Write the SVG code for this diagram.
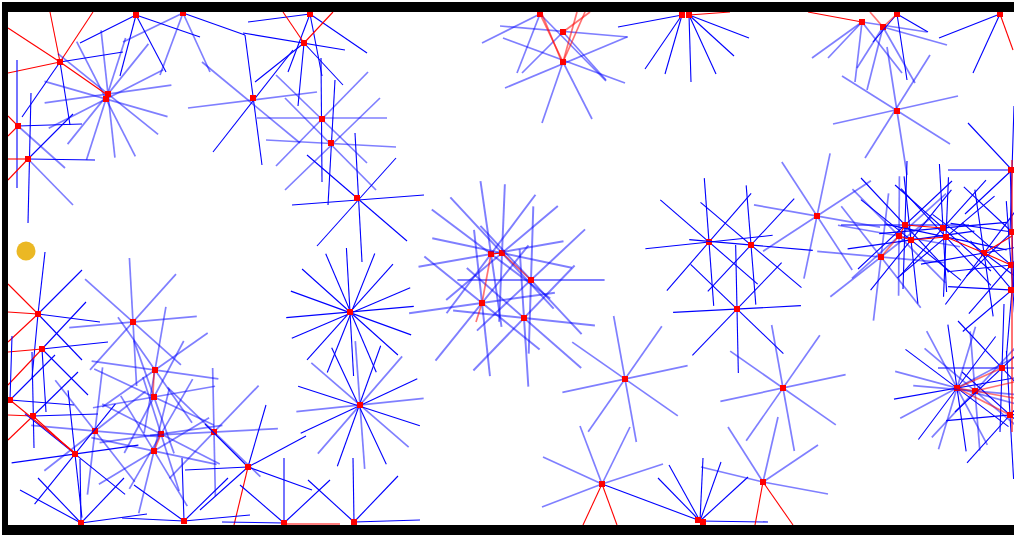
<svg xmlns="http://www.w3.org/2000/svg" width="1014" height="536" viewBox="0 0 1014 536">
<style>
.s{stroke:#0000ff;stroke-width:1.1;fill:none}
.l{stroke:#0000ff;stroke-opacity:.5;stroke-width:1.7;fill:none}
.r{stroke:#ff0000;stroke-width:1.1}
.rl{stroke:#ff0000;stroke-opacity:.55;stroke-width:1.7}
.d{fill:#ff0000}
.w{fill:#000}
</style>
<defs>
<g id="A"><line x1="-64" y1="0" x2="64" y2="0"/><line x1="-44" y1="-47" x2="44" y2="47"/><line x1="2" y1="-64" x2="-2" y2="64"/><line x1="47" y1="-44" x2="-47" y2="44"/></g>
<g id="B"><line x1="-62" y1="0" x2="62" y2="0"/><line x1="-54" y1="-38" x2="54" y2="38"/><line x1="-10" y1="-59" x2="10" y2="59"/><line x1="39" y1="-50" x2="-39" y2="50"/></g>
<rect id="dot" x="-3" y="-3" width="6" height="6"/>
</defs>
<rect width="1014" height="536" fill="#fff"/>

<g id="agents">
<g id="a1"><g class="r"><line x1="60" y1="62" x2="8" y2="28"/><line x1="60" y1="62" x2="8" y2="73"/><line x1="60" y1="62" x2="50" y2="12"/><line x1="60" y1="62" x2="93" y2="12"/></g><g class="s"><line x1="60" y1="62" x2="123" y2="52"/><line x1="60" y1="62" x2="22" y2="117"/><line x1="60" y1="62" x2="70" y2="125"/></g><use href="#dot" class="d" x="60" y="62"/></g>
<g id="a2"><use href="#A" class="l" transform="translate(108,94) rotate(-8)"/><use href="#A" class="l" transform="translate(106,99) rotate(16)"/><use href="#dot" class="d" x="108" y="94"/><use href="#dot" class="d" x="106" y="99"/></g>
<g id="a3"><g class="s"><line x1="136" y1="15" x2="80" y2="43"/><line x1="136" y1="15" x2="120" y2="76"/><line x1="136" y1="15" x2="166" y2="72"/><line x1="136" y1="15" x2="200" y2="37"/></g><use href="#dot" class="d" x="136" y="15"/></g>
<g id="a4"><g class="l"><line x1="183" y1="13" x2="123" y2="42"/><line x1="183" y1="13" x2="160" y2="75"/><line x1="183" y1="13" x2="210" y2="72"/></g><line class="s" x1="183" y1="13" x2="245" y2="35"/><use href="#dot" class="d" x="183" y="13"/></g>
<g id="a5"><line class="l" x1="188" y1="108" x2="317" y2="92"/><line class="s" x1="245" y1="35" x2="262" y2="165"/><line class="s" x1="213" y1="152" x2="293" y2="50"/><line class="l" x1="202" y1="62" x2="300" y2="143"/><use href="#dot" class="d" x="253" y="98"/></g>
<g id="a6"><g class="s"><line x1="310" y1="14" x2="248" y2="22"/><line x1="310" y1="14" x2="367" y2="53"/><line x1="310" y1="14" x2="288" y2="72"/><line x1="310" y1="14" x2="322" y2="76"/></g><use href="#dot" class="d" x="310" y="14"/></g>
<g id="a7"><g class="s"><line x1="243" y1="33" x2="345" y2="50"/><line x1="304" y1="43" x2="255" y2="82"/><line x1="304" y1="43" x2="298" y2="106"/><line x1="304" y1="43" x2="343" y2="85"/></g><g class="r"><line x1="304" y1="43" x2="283" y2="12"/><line x1="304" y1="43" x2="333" y2="12"/></g><use href="#dot" class="d" x="304" y="43"/></g>
<g id="a8"><line class="l" x1="257" y1="118" x2="387" y2="118"/><line class="s" x1="321" y1="58" x2="322" y2="182"/><line class="l" x1="368" y1="72" x2="276" y2="166"/><line class="l" x1="276" y1="75" x2="367" y2="163"/><use href="#dot" class="d" x="322" y="119"/></g>
<g id="a9"><line class="l" x1="266" y1="140" x2="396" y2="147"/><line class="s" x1="335" y1="80" x2="328" y2="205"/><line class="l" x1="380" y1="98" x2="285" y2="190"/><line class="l" x1="285" y1="98" x2="376" y2="190"/><use href="#dot" class="d" x="331" y="143"/></g>
<g id="a10"><g class="s"><line x1="292" y1="205" x2="424" y2="195"/><line x1="355" y1="133" x2="362" y2="262"/><line x1="317" y1="246" x2="396" y2="158"/><line x1="407" y1="241" x2="307" y2="155"/></g><use href="#dot" class="d" x="357" y="198"/></g>
<g id="a11"><line class="s" x1="17" y1="60" x2="17" y2="188"/><line class="s" x1="18" y1="126" x2="82" y2="124"/><line class="l" x1="18" y1="126" x2="65" y2="168"/><g class="r"><line x1="18" y1="126" x2="8" y2="116"/><line x1="18" y1="126" x2="8" y2="136"/></g><use href="#dot" class="d" x="18" y="126"/></g>
<g id="a12"><g class="s"><line x1="31" y1="93" x2="28" y2="223"/><line x1="28" y1="159" x2="95" y2="160"/><line x1="28" y1="159" x2="73" y2="114"/></g><line class="l" x1="28" y1="159" x2="73" y2="205"/><g class="r"><line x1="28" y1="159" x2="8" y2="159"/><line x1="28" y1="159" x2="8" y2="180"/></g><use href="#dot" class="d" x="28" y="159"/></g>
<g id="goal"><circle cx="26" cy="251" r="9.5" fill="#ebb824"/></g>
<g id="a14"><g class="r"><line x1="38" y1="314" x2="8" y2="312"/><line x1="38" y1="314" x2="8" y2="284"/><line x1="38" y1="314" x2="8" y2="342"/></g><g class="s"><line x1="38" y1="314" x2="45" y2="252"/><line x1="38" y1="314" x2="32" y2="378"/><line x1="38" y1="314" x2="82" y2="270"/><line x1="38" y1="314" x2="100" y2="322"/><line x1="38" y1="314" x2="82" y2="360"/></g><use href="#dot" class="d" x="38" y="314"/></g>
<g id="a15"><g class="r"><line x1="42" y1="349" x2="8" y2="352"/><line x1="42" y1="349" x2="8" y2="385"/></g><g class="s"><line x1="42" y1="349" x2="108" y2="342"/><line x1="42" y1="349" x2="86" y2="302"/><line x1="42" y1="349" x2="88" y2="395"/><line x1="42" y1="349" x2="46" y2="412"/></g><use href="#dot" class="d" x="42" y="349"/></g>
<g id="a16"><use href="#A" class="l" transform="translate(133,322) rotate(-5)"/><use href="#dot" class="d" x="133" y="322"/></g>
<g id="a17"><use href="#A" class="l" transform="translate(155,370) rotate(8)"/><use href="#dot" class="d" x="155" y="370"/></g>
<g id="a18"><use href="#B" class="l" transform="translate(154,397) rotate(-10)"/><use href="#dot" class="d" x="154" y="397"/></g>
<g id="a19"><g class="s"><line x1="10" y1="400" x2="74" y2="405"/><line x1="10" y1="400" x2="55" y2="355"/><line x1="10" y1="400" x2="12" y2="336"/></g><use href="#dot" class="d" x="10" y="400"/></g>
<g id="a20"><g class="r"><line x1="33" y1="416" x2="8" y2="415"/><line x1="33" y1="416" x2="8" y2="440"/></g><g class="s"><line x1="33" y1="416" x2="98" y2="414"/><line x1="32" y1="352" x2="34" y2="448"/><line x1="33" y1="416" x2="78" y2="372"/></g><use href="#dot" class="d" x="33" y="416"/></g>
<g id="a21"><use href="#A" class="l" transform="translate(95,431) rotate(5)"/><use href="#dot" class="d" x="95" y="431"/></g>
<g id="a22"><use href="#B" class="l" transform="translate(161,434) rotate(-8)"/><use href="#dot" class="d" x="161" y="434"/></g>
<g id="a23"><use href="#A" class="l" transform="translate(154,451) rotate(12)"/><use href="#dot" class="d" x="154" y="451"/></g>
<g id="a24"><use href="#A" class="l" transform="translate(214,432) rotate(-3)"/><use href="#dot" class="d" x="214" y="432"/></g>
<g id="a25"><use href="#A" class="s" transform="translate(75,454) rotate(-8)"/><use href="#dot" class="d" x="75" y="454"/></g>
<g id="a26"><g class="s"><line x1="248" y1="467" x2="312" y2="490"/><line x1="248" y1="467" x2="306" y2="436"/><line x1="248" y1="467" x2="266" y2="405"/><line x1="248" y1="467" x2="205" y2="424"/><line x1="248" y1="467" x2="185" y2="470"/><line x1="248" y1="467" x2="200" y2="510"/></g><line class="r" x1="248" y1="467" x2="234" y2="525"/><use href="#dot" class="d" x="248" y="467"/></g>
<g id="a27"><g class="s"><line x1="81" y1="523" x2="20" y2="490"/><line x1="81" y1="523" x2="147" y2="514"/><line x1="81" y1="523" x2="124" y2="478"/><line x1="81" y1="523" x2="80" y2="459"/><line x1="81" y1="523" x2="38" y2="478"/></g><use href="#dot" class="d" x="81" y="523"/></g>
<g id="a28"><g class="s"><line x1="184" y1="521" x2="134" y2="485"/><line x1="184" y1="521" x2="250" y2="515"/><line x1="184" y1="521" x2="228" y2="478"/><line x1="184" y1="521" x2="182" y2="458"/><line x1="184" y1="521" x2="122" y2="518"/></g><use href="#dot" class="d" x="184" y="521"/></g>
<g id="a29"><g class="s"><line x1="284" y1="523" x2="284" y2="458"/><line x1="284" y1="523" x2="330" y2="480"/><line x1="284" y1="523" x2="240" y2="485"/><line x1="284" y1="523" x2="222" y2="522"/></g><use href="#dot" class="d" x="284" y="523"/></g>
<g id="a30"><g class="s"><line x1="354" y1="522" x2="353" y2="458"/><line x1="354" y1="522" x2="398" y2="476"/><line x1="354" y1="522" x2="308" y2="480"/><line x1="354" y1="522" x2="420" y2="520"/></g><use href="#dot" class="d" x="354" y="522"/></g>
<g id="a31"><use href="#A" class="s" transform="translate(350,312) rotate(-5)"/><use href="#A" class="s" transform="translate(351,313) rotate(20)"/><use href="#dot" class="d" x="350" y="312"/></g>
<g id="a32"><use href="#A" class="l" transform="translate(360,405) rotate(-6)"/><use href="#A" class="s" transform="translate(359,406) rotate(18)"/><use href="#dot" class="d" x="360" y="405"/></g>
<g id="a33"><use href="#A" class="l" transform="translate(491,254) rotate(-10) scale(1.15)"/><use href="#dot" class="d" x="491" y="254"/></g>
<g id="a34"><use href="#B" class="l" transform="translate(502,253) rotate(12) scale(1.15)"/><use href="#dot" class="d" x="502" y="253"/></g>
<g id="a35"><use href="#A" class="l" transform="translate(531,280) rotate(0) scale(1.15)"/><use href="#dot" class="d" x="531" y="280"/></g>
<g id="a36"><use href="#A" class="l" transform="translate(482,303) rotate(-8) scale(1.15)"/><use href="#dot" class="d" x="482" y="303"/></g>
<g id="a37"><use href="#B" class="l" transform="translate(524,318) rotate(6) scale(1.15)"/><use href="#dot" class="d" x="524" y="318"/></g>
<g id="a38"><use href="#A" class="s" transform="translate(709,242) rotate(-6)"/><use href="#dot" class="d" x="709" y="242"/></g>
<g id="a39"><use href="#B" class="s" transform="translate(751,245) rotate(5)"/><use href="#dot" class="d" x="751" y="245"/></g>
<g id="a40"><use href="#A" class="s" transform="translate(737,309) rotate(-3)"/><use href="#dot" class="d" x="737" y="309"/></g>
<g id="a41"><use href="#A" class="l" transform="translate(817,216) rotate(10)"/><use href="#dot" class="d" x="817" y="216"/></g>
<g id="a42"><use href="#A" class="l" transform="translate(625,379) rotate(-12)"/><use href="#dot" class="d" x="625" y="379"/></g>
<g id="a43"><use href="#A" class="l" transform="translate(783,388) rotate(-12)"/><use href="#dot" class="d" x="783" y="388"/></g>
<g id="a44"><g class="l"><line x1="602" y1="484" x2="543" y2="457"/><line x1="602" y1="484" x2="580" y2="426"/><line x1="602" y1="484" x2="630" y2="427"/><line x1="602" y1="484" x2="663" y2="464"/><line x1="602" y1="484" x2="542" y2="507"/></g><line class="s" x1="602" y1="484" x2="698" y2="520"/><g class="r"><line x1="602" y1="484" x2="583" y2="525"/><line x1="602" y1="484" x2="617" y2="525"/></g><use href="#dot" class="d" x="602" y="484"/></g>
<g id="a45"><g class="s"><line x1="700" y1="521" x2="658" y2="478"/><line x1="700" y1="521" x2="669" y2="465"/><line x1="700" y1="521" x2="703" y2="458"/><line x1="700" y1="521" x2="721" y2="462"/><line x1="700" y1="521" x2="748" y2="477"/><line x1="700" y1="521" x2="768" y2="522"/></g><use href="#dot" class="d" x="698" y="520"/><use href="#dot" class="d" x="703" y="522"/></g>
<g id="a46"><g class="l"><line x1="763" y1="482" x2="728" y2="427"/><line x1="763" y1="482" x2="778" y2="417"/><line x1="763" y1="482" x2="818" y2="445"/><line x1="763" y1="482" x2="828" y2="494"/><line x1="763" y1="482" x2="701" y2="467"/></g><g class="r"><line x1="763" y1="482" x2="755" y2="525"/><line x1="763" y1="482" x2="793" y2="525"/></g><use href="#dot" class="d" x="763" y="482"/></g>
<g id="a47"><g class="l"><line x1="540" y1="14" x2="482" y2="43"/><line x1="540" y1="14" x2="517" y2="73"/><line x1="540" y1="14" x2="606" y2="81"/></g><use href="#dot" class="d" x="540" y="14"/></g>
<g id="a48"><g class="l"><line x1="500" y1="26" x2="628" y2="37"/><line x1="563" y1="32" x2="522" y2="73"/><line x1="563" y1="32" x2="606" y2="80"/></g><use href="#dot" class="d" x="563" y="32"/></g>
<g id="a49"><g class="l"><line x1="505" y1="88" x2="627" y2="37"/><line x1="503" y1="38" x2="625" y2="83"/><line x1="563" y1="62" x2="542" y2="123"/><line x1="563" y1="62" x2="592" y2="119"/></g><use href="#dot" class="d" x="563" y="62"/></g>
<g id="a50"><g class="s"><line x1="682" y1="15" x2="618" y2="27"/><line x1="682" y1="15" x2="645" y2="69"/><line x1="682" y1="15" x2="665" y2="74"/><line x1="689" y1="15" x2="691" y2="82"/><line x1="689" y1="15" x2="716" y2="74"/><line x1="689" y1="15" x2="734" y2="56"/><line x1="689" y1="15" x2="749" y2="38"/></g><use href="#dot" class="d" x="682" y="15"/><use href="#dot" class="d" x="689" y="15"/></g>
<g id="a51"><g class="l"><line x1="862" y1="22" x2="812" y2="58"/><line x1="862" y1="22" x2="828" y2="58"/><line x1="862" y1="22" x2="855" y2="82"/><line x1="862" y1="22" x2="902" y2="73"/><line x1="862" y1="22" x2="927" y2="32"/></g><use href="#dot" class="d" x="862" y="22"/></g>
<g id="a52"><g class="l"><line x1="883" y1="27" x2="867" y2="90"/><line x1="883" y1="27" x2="915" y2="83"/><line x1="883" y1="27" x2="947" y2="45"/><line x1="883" y1="27" x2="857" y2="68"/></g><use href="#dot" class="d" x="883" y="27"/></g>
<g id="a53"><g class="s"><line x1="897" y1="14" x2="907" y2="80"/><line x1="897" y1="14" x2="928" y2="32"/><line x1="897" y1="14" x2="873" y2="42"/></g><use href="#dot" class="d" x="897" y="14"/></g>
<g id="a54"><g class="s"><line x1="1000" y1="14" x2="939" y2="38"/><line x1="1000" y1="14" x2="973" y2="73"/></g><use href="#dot" class="d" x="1000" y="14"/></g>
<g id="a55"><g class="l"><line x1="833" y1="124" x2="958" y2="96"/><line x1="842" y1="76" x2="950" y2="144"/><line x1="865" y1="158" x2="930" y2="55"/><line x1="887" y1="47" x2="907" y2="175"/></g><use href="#dot" class="d" x="897" y="111"/></g>
<g id="a56"><use href="#A" class="s" transform="translate(905,225) rotate(0)"/><use href="#dot" class="d" x="905" y="225"/></g>
<g id="a57"><use href="#B" class="l" transform="translate(899,236) rotate(10)"/><use href="#dot" class="d" x="899" y="236"/></g>
<g id="a58"><use href="#A" class="s" transform="translate(911,240) rotate(-8)"/><use href="#dot" class="d" x="911" y="240"/></g>
<g id="a59"><use href="#A" class="l" transform="translate(881,257) rotate(5)"/><use href="#dot" class="d" x="881" y="257"/></g>
<g id="a60"><use href="#A" class="s" transform="translate(943,228) rotate(-5)"/><use href="#dot" class="d" x="943" y="228"/></g>
<g id="a61"><use href="#B" class="s" transform="translate(946,237) rotate(12)"/><use href="#dot" class="d" x="946" y="237"/></g>
<g id="a62"><use href="#A" class="s" transform="translate(984,253) rotate(-10)"/><use href="#dot" class="d" x="984" y="253"/></g>
<g id="a63"><use href="#A" class="s" transform="translate(1012,170) rotate(0)"/><use href="#dot" class="d" x="1011" y="170"/></g>
<g id="a64"><use href="#B" class="s" transform="translate(1012,232) rotate(8)"/><use href="#dot" class="d" x="1011" y="232"/></g>
<g id="a65"><use href="#A" class="s" transform="translate(1011,265) rotate(-6)"/><use href="#dot" class="d" x="1011" y="265"/></g>
<g id="a66"><use href="#A" class="s" transform="translate(1012,290) rotate(3)"/><use href="#dot" class="d" x="1011" y="290"/></g>
<g id="a67"><use href="#A" class="s" transform="translate(957,388) rotate(-10)"/><use href="#A" class="l" transform="translate(957,388) rotate(15)"/><use href="#dot" class="d" x="957" y="388"/></g>
<g id="a68"><use href="#B" class="l" transform="translate(975,391) rotate(5)"/><use href="#dot" class="d" x="975" y="391"/></g>
<g id="a69"><use href="#A" class="s" transform="translate(1002,368) rotate(0)"/><use href="#dot" class="d" x="1002" y="368"/></g>
<g id="a70"><use href="#A" class="s" transform="translate(1010,415) rotate(-5)"/><use href="#dot" class="d" x="1010" y="415"/></g>
</g>

<g id="connectors">
<line class="r" x1="60" y1="62" x2="106" y2="94"/>
<line class="r" x1="491" y1="254" x2="502" y2="253"/>
<line class="rl" x1="502" y1="253" x2="531" y2="280"/>
<line class="rl" x1="491" y1="254" x2="482" y2="303"/>
<line class="rl" x1="482" y1="303" x2="476" y2="322"/>
<line class="rl" x1="540" y1="14" x2="563" y2="62"/>
<line class="rl" x1="542" y1="14" x2="561" y2="60"/>
<line class="rl" x1="563" y1="62" x2="585" y2="12"/>
<line class="rl" x1="563" y1="62" x2="577" y2="12"/>
<line class="rl" x1="563" y1="32" x2="590" y2="12"/>
<line class="r" x1="689" y1="15" x2="730" y2="12"/>
<line class="r" x1="862" y1="22" x2="808" y2="12"/>
<line class="rl" x1="883" y1="27" x2="870" y2="12"/>
<line class="rl" x1="883" y1="27" x2="897" y2="14"/>
<line class="r" x1="1000" y1="14" x2="1013" y2="50"/>
<line class="rl" x1="881" y1="257" x2="899" y2="236"/>
<line class="r" x1="899" y1="236" x2="905" y2="225"/>
<line class="r" x1="905" y1="225" x2="943" y2="228"/>
<line class="r" x1="899" y1="236" x2="911" y2="240"/>
<line class="r" x1="911" y1="240" x2="946" y2="237"/>
<line class="r" x1="946" y1="237" x2="984" y2="253"/>
<line class="r" x1="984" y1="253" x2="1012" y2="236"/>
<line class="r" x1="984" y1="253" x2="1011" y2="265"/>
<line class="r" x1="1012" y1="160" x2="1012" y2="432"/>
<line class="rl" x1="957" y1="388" x2="1002" y2="368"/>
<line class="rl" x1="957" y1="388" x2="1010" y2="415"/>
<line class="rl" x1="975" y1="391" x2="1014" y2="382"/>
<line class="rl" x1="957" y1="388" x2="1014" y2="398"/>
<line class="r" x1="285" y1="524" x2="340" y2="524"/>
<line class="r" x1="33" y1="416" x2="75" y2="454"/>
<line class="r" x1="10" y1="400" x2="75" y2="453"/>
<line class="rl" x1="161" y1="434" x2="154" y2="451"/>
<line class="rl" x1="154" y1="372" x2="153" y2="395"/>
</g>

<g id="walls">
<rect class="w" x="2" y="2" width="1012" height="10"/>
<rect class="w" x="2" y="2" width="6" height="533"/>
<rect class="w" x="2" y="525" width="1012" height="10"/>
</g>
</svg>
